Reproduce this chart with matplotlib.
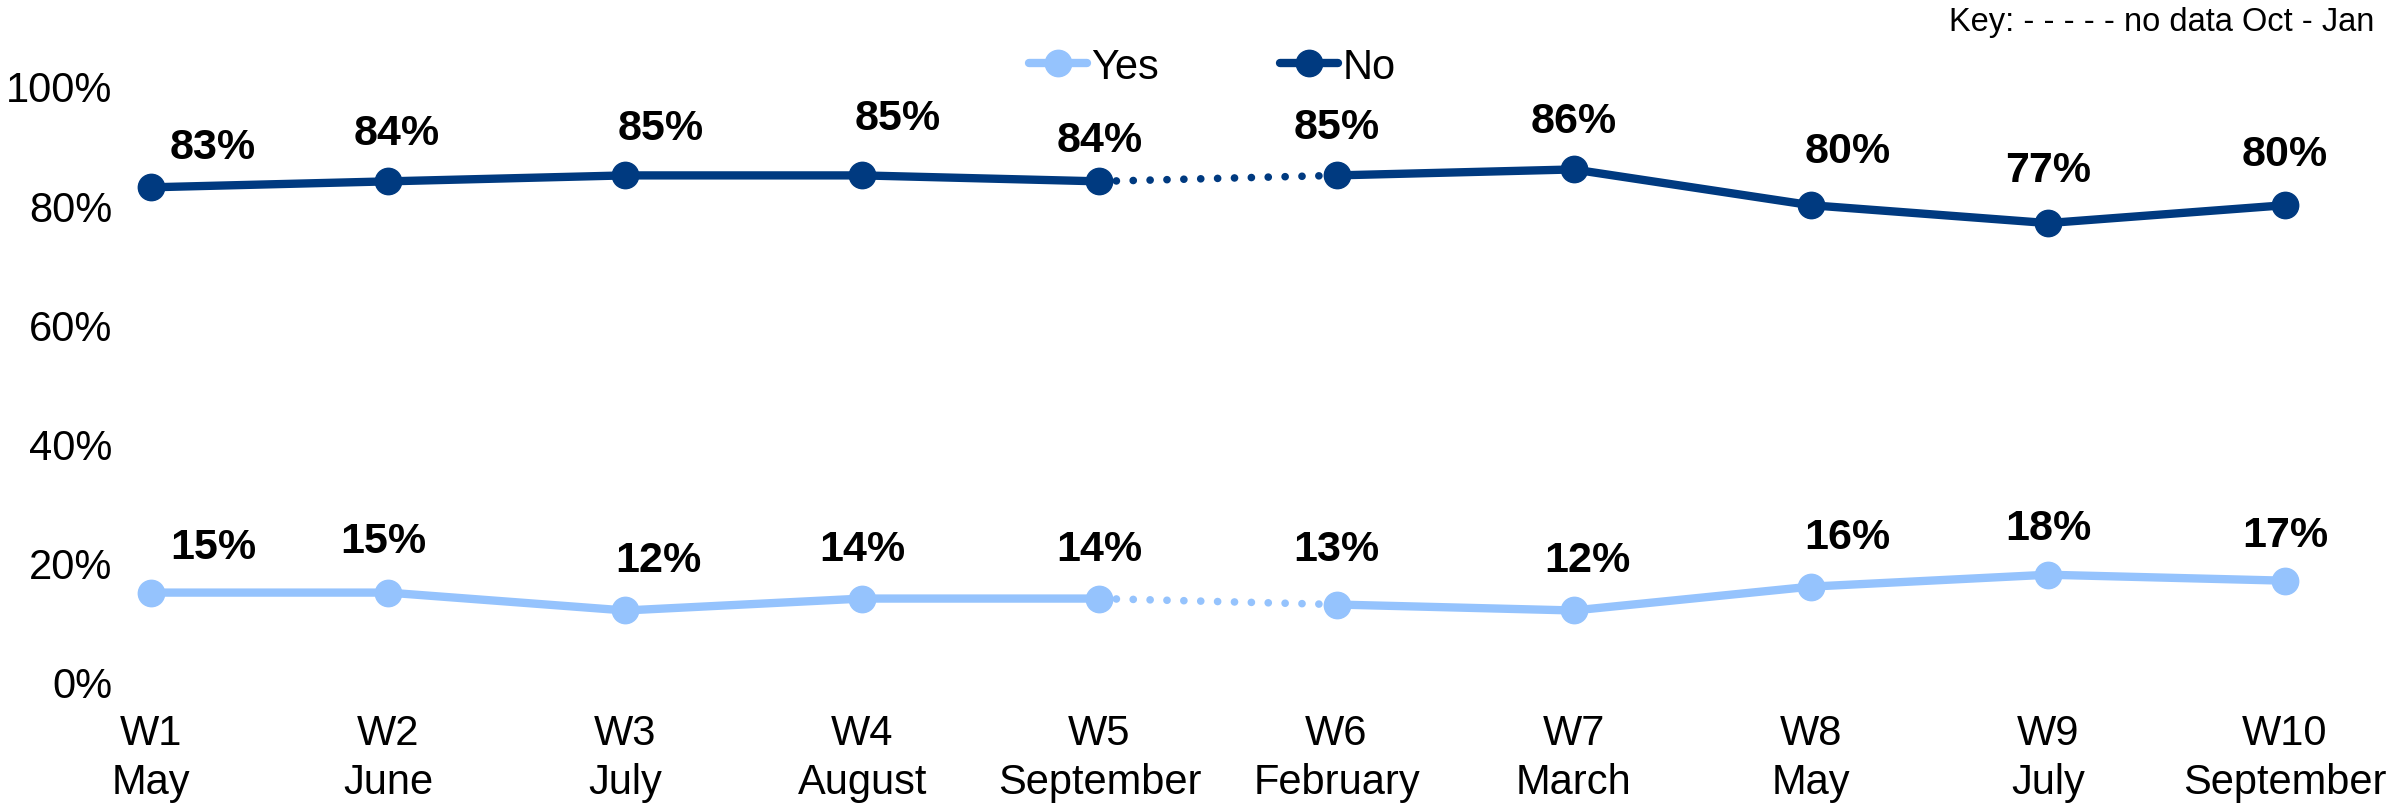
import numpy as np
import matplotlib.pyplot as plt

plt.rcParams['font.family'] = ['Liberation Sans', 'DejaVu Sans']

# data
waves = ["W1", "W2", "W3", "W4", "W5", "W6", "W7", "W8", "W9", "W10"]
months = ["May", "June", "July", "August", "September", "February", "March", "May", "July", "September"]
yes_vals = [15, 15, 12, 14, 14, 13, 12, 16, 18, 17]
no_vals = [83, 84, 85, 85, 84, 85, 86, 80, 77, 80]
gap_after = 4  # no data between W5 and W6

# label offsets in pixels (dx, dy), dy up
no_off = [(62, 40), (9, 48), (35, 47), (35, 57), (0, 41), (0, 48), (0, 48), (37, 54), (0, 53), (0, 51)]
yes_off = [(62, 46), (-5, 52), (33, 50), (0, 50), (0, 50), (0, 56), (14, 50), (37, 50), (0, 47), (0, 46)]

YES_C = "#95C3FD"
NO_C = "#003A80"

fig = plt.figure(figsize=(23.87, 8.04), dpi=100)
W, H = 2387, 804
x0, x9 = 151, 2285
unit = (x9 - x0) / 9
xl = (-0.15, 9.15)
left = x0 + xl[0] * unit
right = x0 + xl[1] * unit
y0, y100 = 683, 87
ax = fig.add_axes([left / W, 1 - y0 / H, (right - left) / W, (y0 - y100) / H])

x = np.arange(len(waves))
for vals, col, name in [(yes_vals, YES_C, "Yes"), (no_vals, NO_C, "No")]:
    v = np.array(vals)
    ax.plot(x[:gap_after + 1], v[:gap_after + 1], color=col, lw=6, marker="o", ms=19,
            solid_capstyle="round", clip_on=False, label=name)
    ax.plot(x[gap_after + 1:], v[gap_after + 1:], color=col, lw=6, marker="o", ms=19,
            clip_on=False)
    ax.plot(x[gap_after:gap_after + 2], v[gap_after:gap_after + 2], color=col, lw=5.5,
            linestyle=(0, (0.01, 2.2)), dash_capstyle="round", clip_on=False, zorder=1.5)

for vals, offs in [(no_vals, no_off), (yes_vals, yes_off)]:
    for i, v in enumerate(vals):
        ax.annotate(f"{v}%", (x[i], v), xytext=offs[i], textcoords="offset pixels",
                    ha="center", va="center", fontsize=31, fontweight="bold")

ax.set_xlim(*xl)
ax.set_ylim(0, 100)
ax.set_yticks(range(0, 101, 20))
ax.set_yticklabels([f"{t}%" for t in range(0, 101, 20)], fontsize=30)
ax.set_xticks(x)
ax.set_xticklabels([f"{w}\n{m}" for w, m in zip(waves, months)], fontsize=30, linespacing=1.3)
ax.tick_params(length=0)
ax.tick_params(axis="x", pad=22)
ax.tick_params(axis="y", pad=2)
for s in ax.spines.values():
    s.set_visible(False)

fig.legend(loc="center", bbox_to_anchor=(1212 / W, 1 - 68 / H), ncol=2, frameon=False,
           fontsize=30, handlelength=1.4, handletextpad=0.1, columnspacing=2.9)
fig.text(2374 / W, 1 - 22 / H, "Key: - - - - - no data Oct - Jan", ha="right", va="center", fontsize=23.5)

fig.savefig("out.png", dpi=100)
